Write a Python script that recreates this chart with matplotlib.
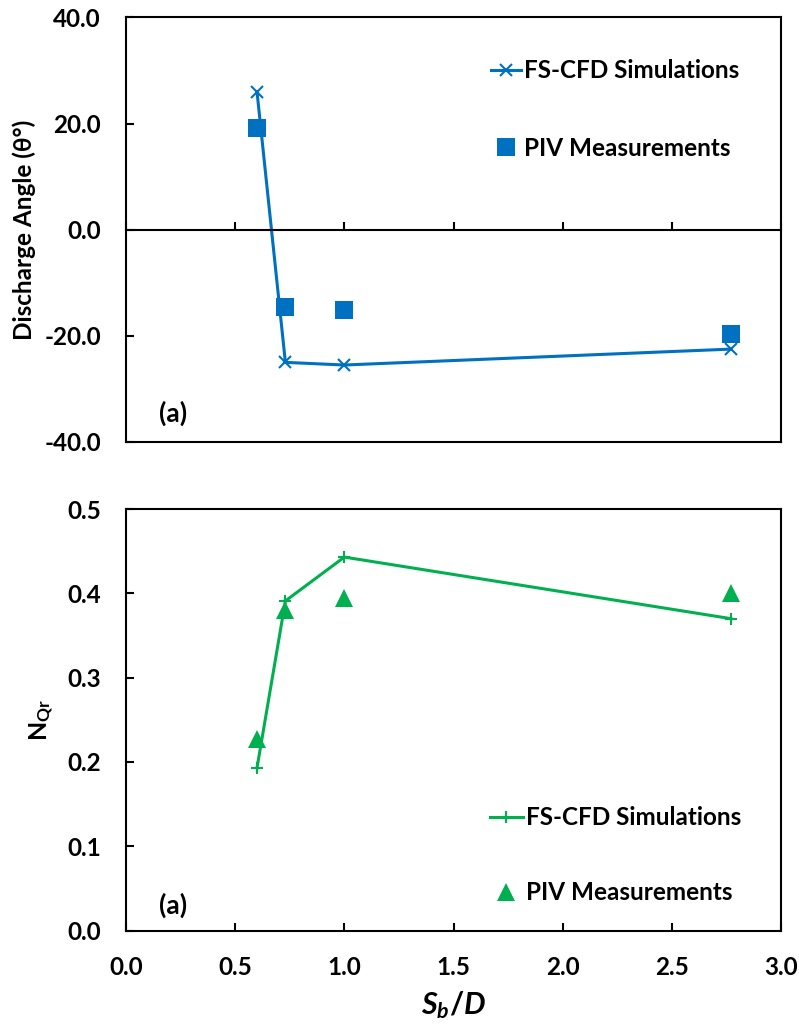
import numpy as np
import matplotlib
matplotlib.use("Agg")
import matplotlib.pyplot as plt
from matplotlib.ticker import FormatStrFormatter, MultipleLocator

plt.rcParams['font.family'] = ['Lato', 'DejaVu Sans']
plt.rcParams['axes.unicode_minus'] = False
plt.rcParams['mathtext.fontset'] = 'custom'
plt.rcParams['mathtext.rm'] = 'Lato:bold'
plt.rcParams['mathtext.it'] = 'Lato:bold:italic'
plt.rcParams['mathtext.bf'] = 'Lato:bold'

# spacing ratio S_b/D
sb_d = [0.60, 0.73, 1.00, 2.77]

# discharge angle (deg)
angle_cfd = [26.0, -25.0, -25.5, -22.5]
angle_piv = [19.2, -14.6, -15.2, -19.7]

# N_Qr
nqr_cfd = [0.193, 0.391, 0.443, 0.370]
nqr_piv = [0.227, 0.380, 0.395, 0.400]

blue = '#0070C0'
green = '#00B050'
tick_fs = 17.5
leg_fs = 17.5

fig = plt.figure(figsize=(7.99, 10.29), dpi=100)
ax1 = fig.add_axes([0.1577, 0.5705, 0.8198, 0.4125])
ax2 = fig.add_axes([0.1577, 0.0957, 0.8198, 0.4096])

for ax in (ax1, ax2):
    for sp in ax.spines.values():
        sp.set_linewidth(1.5)
    ax.set_xlim(0, 3.0)
    ax.xaxis.set_major_locator(MultipleLocator(0.5))
    ax.xaxis.set_major_formatter(FormatStrFormatter('%.1f'))
    ax.yaxis.set_major_formatter(FormatStrFormatter('%.1f'))
    ax.tick_params(direction='in', length=6, width=1.5, pad=18,
                   labelsize=tick_fs, top=False, right=False)
    for lab in ax.get_xticklabels() + ax.get_yticklabels():
        lab.set_fontweight('bold')

# top panel: discharge angle
ax1.set_ylim(-40, 40)
ax1.yaxis.set_major_locator(MultipleLocator(20))
ax1.plot(sb_d, angle_cfd, color=blue, lw=2.2, marker='x', ms=8, mew=1.5,
         label='FS-CFD Simulations')
ax1.plot(sb_d, angle_piv, ls='none', color=blue, marker='s', ms=12.5, mew=0,
         label='PIV Measurements')
ax1.spines['bottom'].set_position(('data', 0))
ax1.tick_params(axis='x', labelbottom=False)
ax1.axhline(ax1.get_ylim()[0], color='black', lw=1.5, clip_on=False)
ax1.set_ylabel('Discharge Angle (\u03b8\u00b0)', fontsize=17.5, fontweight='bold',
               labelpad=6)
ax1.text(0.072, 0.068, '(a)', transform=ax1.transAxes, fontsize=19,
         fontweight='bold', ha='center', va='center')
ax1.legend(loc='upper right', bbox_to_anchor=(0.936, 0.902), frameon=False,
           borderpad=0, borderaxespad=0, handlelength=1.25, handletextpad=0.12,
           labelspacing=2.25, prop={'size': leg_fs, 'weight': 'bold'})

# bottom panel: N_Qr
ax2.set_ylim(0, 0.5)
ax2.yaxis.set_major_locator(MultipleLocator(0.1))
ax2.plot(sb_d, nqr_cfd, color=green, lw=2.2, marker='+', ms=9, mew=1.5,
         label='FS-CFD Simulations')
ax2.plot(sb_d, nqr_piv, ls='none', color=green, marker='^', ms=13, mew=0,
         label='PIV Measurements')
ax2.set_ylabel('N$_{\\mathbf{Qr}}$', fontsize=18, fontweight='bold', labelpad=8)
ax2.set_xlabel('$S_b/D$', fontsize=22, labelpad=8)
ax2.text(0.072, 0.059, '(a)', transform=ax2.transAxes, fontsize=19,
         fontweight='bold', ha='center', va='center')
ax2.legend(loc='lower right', bbox_to_anchor=(0.939, 0.062), frameon=False,
           borderpad=0, borderaxespad=0, handlelength=1.35, handletextpad=0.12,
           labelspacing=2.15, prop={'size': leg_fs, 'weight': 'bold'})

fig.savefig('out.png', dpi=100)
